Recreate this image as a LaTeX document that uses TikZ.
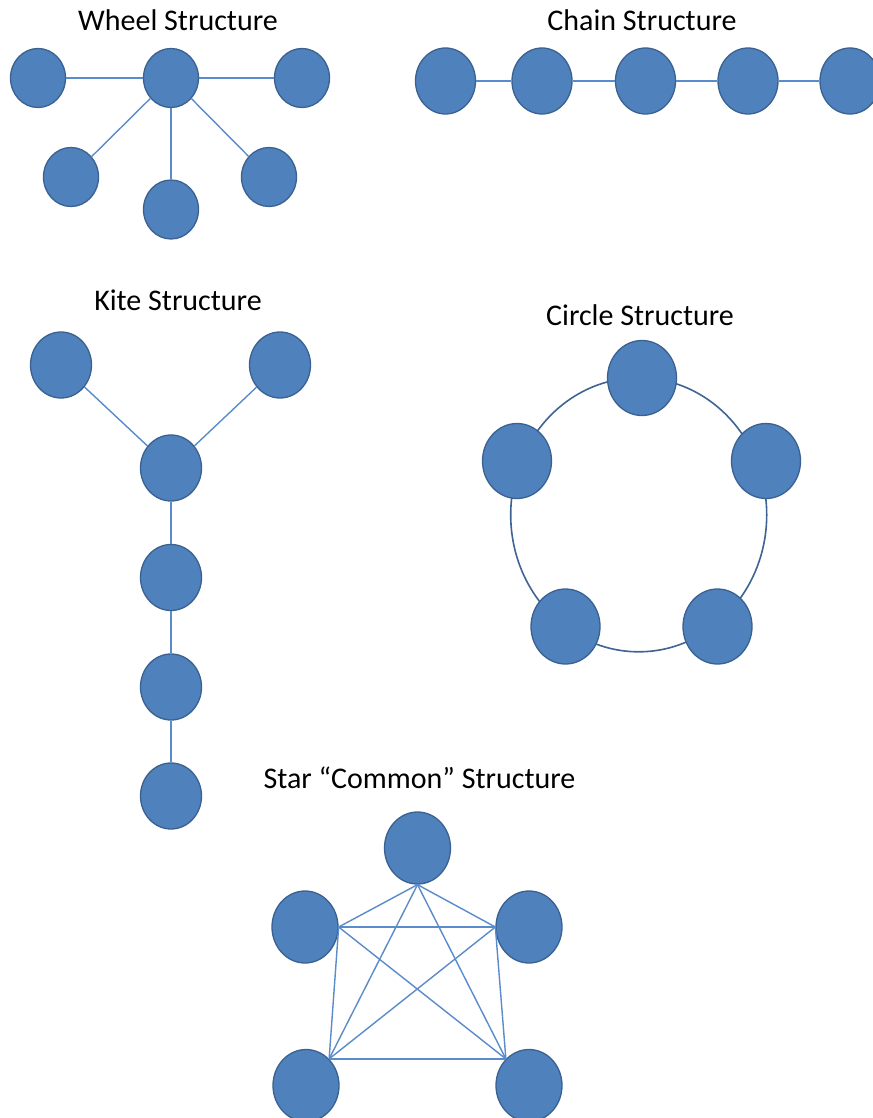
\documentclass[tikz,border=0pt]{standalone}
\usepackage{fontspec}
\setmainfont{Carlito}
\usetikzlibrary{shapes.geometric}
\definecolor{nodefill}{HTML}{4F81BD}
\definecolor{nodeline}{HTML}{3A6190}
\definecolor{linkblue}{HTML}{5A8BCB}
\definecolor{ringblue}{HTML}{3F6494}
\tikzset{
  nd/.style={ellipse, draw=nodeline, fill=nodefill, line width=1.3pt, inner sep=0pt},
  wheelnd/.style={nd, minimum width=55pt, minimum height=59pt},
  chainnd/.style={nd, minimum width=60pt, minimum height=66pt},
  kitend/.style={nd, minimum width=61pt, minimum height=66pt},
  circnd/.style={nd, minimum width=69pt, minimum height=75pt},
  starnd/.style={nd, minimum width=66pt, minimum height=72pt},
  link/.style={draw=linkblue, line width=1.4pt},
  ringline/.style={draw=ringblue, line width=1.6pt},
  title/.style={anchor=base, font=\fontsize{30}{36}\selectfont, text=black, inner sep=0pt}
}
\begin{document}
\begin{tikzpicture}[x=1pt, y=-1pt]
\fill[white] (0,0) rectangle (872,1118);
\useasboundingbox (0,0) rectangle (872,1118);

% ---- Wheel ----
\node[title] (wt) at (178,30.7) {Wheel Structure};
\node[wheelnd] (w0) at (171,78) {};
\node[wheelnd] (w1) at (38,78) {};
\node[wheelnd] (w2) at (302,78) {};
\node[wheelnd] (w3) at (71,177) {};
\node[wheelnd] (w4) at (171,209.5) {};
\node[wheelnd] (w5) at (269,177) {};
\foreach \n in {w1,w2,w3,w4,w5} \draw[link] (w0) -- (\n);

% ---- Chain ----
\node[title] (ct) at (642,30.7) {Chain Structure};
\node[chainnd] (c1) at (445.5,81) {};
\node[chainnd] (c2) at (542,81) {};
\node[chainnd] (c3) at (645.5,81) {};
\node[chainnd] (c4) at (748,81) {};
\node[chainnd] (c5) at (850,81) {};
\draw[link] (c1) -- (c2);
\draw[link] (c2) -- (c3);
\draw[link] (c3) -- (c4);
\draw[link] (c4) -- (c5);

% ---- Kite ----
\node[title] (kt) at (178,310) {Kite Structure};
\node[kitend] (k1) at (61,365) {};
\node[kitend] (k2) at (280,365) {};
\node[kitend] (k3) at (171,468) {};
\node[kitend] (k4) at (171,577.5) {};
\node[kitend] (k5) at (171,687) {};
\node[kitend] (k6) at (171,796) {};
\draw[link] (k1) -- (k3);
\draw[link] (k2) -- (k3);
\draw[link] (k3) -- (k4);
\draw[link] (k4) -- (k5);
\draw[link] (k5) -- (k6);

% ---- Circle ----
\node[title] (rt) at (640,325) {Circle Structure};
\draw[ringline] (638.7,514.8) ellipse [x radius=128, y radius=137];
\node[circnd] (r1) at (642,378) {};
\node[circnd] (r2) at (517,461) {};
\node[circnd] (r3) at (766,461) {};
\node[circnd] (r4) at (565.5,626.5) {};
\node[circnd] (r5) at (717.5,626.5) {};

% ---- Star ----
\node[title] (st) at (419.5,788) {Star “Common” Structure};
\node[starnd] (s1) at (417.5,848) {};
\node[starnd] (s2) at (305,927) {};
\node[starnd] (s3) at (529,927) {};
\node[starnd] (s4) at (306,1085.5) {};
\node[starnd] (s5) at (529,1085.5) {};
\coordinate (p1) at (s1.south);
\coordinate (p2) at (s2.east);
\coordinate (p3) at (s3.west);
\coordinate (p4) at (s4.49);
\coordinate (p5) at (s5.131);
\draw[link] (p1) -- (p2);
\draw[link] (p1) -- (p3);
\draw[link] (p1) -- (p4);
\draw[link] (p1) -- (p5);
\draw[link] (p2) -- (p3);
\draw[link] (p2) -- (p4);
\draw[link] (p2) -- (p5);
\draw[link] (p3) -- (p4);
\draw[link] (p3) -- (p5);
\draw[link] (p4) -- (p5);
\end{tikzpicture}
\end{document}
